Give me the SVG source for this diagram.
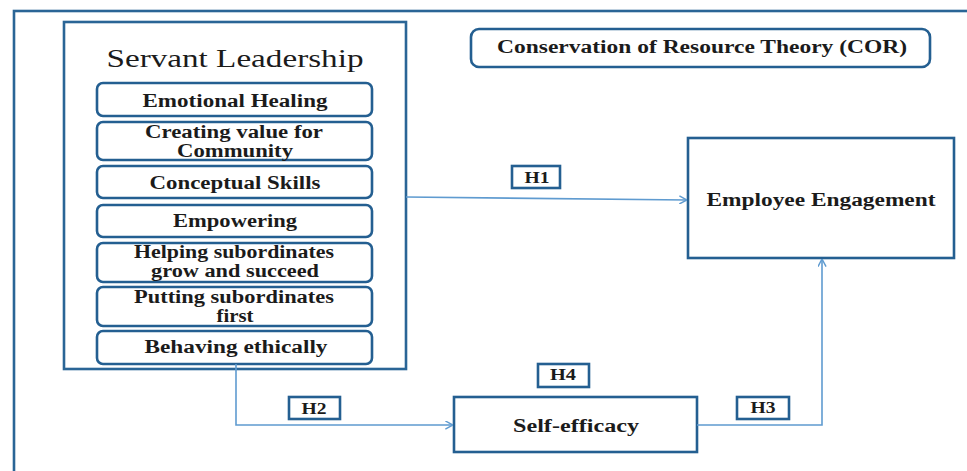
<svg xmlns="http://www.w3.org/2000/svg" width="967" height="471" viewBox="0 0 967 471">
<style>
.box{fill:#fff;stroke:#245f91;stroke-width:2.6}
.frame{fill:none;stroke:#2a6596;stroke-width:2.6}
.t{font-family:"Liberation Serif","Times New Roman",serif;font-weight:bold;font-size:18px;fill:#1b1b1b;text-anchor:middle}
.h{font-family:"Liberation Serif","Times New Roman",serif;font-weight:bold;font-size:17px;fill:#1b1b1b;text-anchor:middle}
.title{font-family:"Liberation Serif","Times New Roman",serif;font-size:26px;fill:#1b1b1b;text-anchor:middle}
.conn{fill:none;stroke:#5f9bd0;stroke-width:1.6}
</style>
<defs>
<marker id="arr" viewBox="0 0 10 10" refX="9.5" refY="5" markerWidth="9" markerHeight="9" markerUnits="userSpaceOnUse" orient="auto">
<path d="M1,0.5 L9.5,5 L1,9.5" fill="none" stroke="#5f9bd0" stroke-width="1.6"/>
</marker>
</defs>
<rect x="0" y="0" width="967" height="471" fill="#fff"/>
<rect class="frame" x="14" y="11" width="990" height="500"/>

<g id="servant-leadership">
<rect class="frame" x="64" y="22" width="342" height="347"/>
<text class="title" x="235" y="67" textLength="257" lengthAdjust="spacingAndGlyphs">Servant Leadership</text>
</g>
<g id="emotional-healing">
<rect class="box" x="97" y="83" width="275" height="33" rx="6"/>
<text class="t" x="235" y="107" textLength="185" lengthAdjust="spacingAndGlyphs">Emotional Healing</text>
</g>
<g id="creating-value">
<rect class="box" x="97" y="122" width="275" height="38" rx="6"/>
<text class="t" x="234" y="138" textLength="178" lengthAdjust="spacingAndGlyphs">Creating value for</text>
<text class="t" x="235" y="157" textLength="116" lengthAdjust="spacingAndGlyphs">Community</text>
</g>
<g id="conceptual-skills">
<rect class="box" x="97" y="166" width="275" height="32" rx="6"/>
<text class="t" x="235" y="189" textLength="171" lengthAdjust="spacingAndGlyphs">Conceptual Skills</text>
</g>
<g id="empowering">
<rect class="box" x="97" y="205" width="275" height="32" rx="6"/>
<text class="t" x="235" y="227" textLength="124" lengthAdjust="spacingAndGlyphs">Empowering</text>
</g>
<g id="helping">
<rect class="box" x="97" y="243" width="275" height="39" rx="6"/>
<text class="t" x="234" y="258" textLength="200" lengthAdjust="spacingAndGlyphs">Helping subordinates</text>
<text class="t" x="235" y="277" textLength="168" lengthAdjust="spacingAndGlyphs">grow and succeed</text>
</g>
<g id="putting">
<rect class="box" x="97" y="287" width="275" height="39" rx="6"/>
<text class="t" x="234" y="303" textLength="200" lengthAdjust="spacingAndGlyphs">Putting subordinates</text>
<text class="t" x="235" y="322" textLength="37" lengthAdjust="spacingAndGlyphs">first</text>
</g>
<g id="behaving">
<rect class="box" x="97" y="331" width="275" height="33" rx="6"/>
<text class="t" x="236" y="353" textLength="183" lengthAdjust="spacingAndGlyphs">Behaving ethically</text>
</g>

<g id="cor">
<rect class="box" x="471" y="29" width="459" height="38" rx="8"/>
<text class="t" x="702" y="53" textLength="410" lengthAdjust="spacingAndGlyphs">Conservation of Resource Theory (COR)</text>
</g>
<g id="employee-engagement">
<rect class="box" x="688" y="138" width="266" height="120"/>
<text class="t" x="821" y="206" textLength="229" lengthAdjust="spacingAndGlyphs">Employee Engagement</text>
</g>
<g id="self-efficacy">
<rect class="box" x="454" y="397" width="243" height="55"/>
<text class="t" x="576" y="432" textLength="126" lengthAdjust="spacingAndGlyphs">Self-efficacy</text>
</g>

<g id="connectors">
<path class="conn" d="M406,197 L687,200" marker-end="url(#arr)"/>
<path class="conn" d="M236,364 V425 H453" marker-end="url(#arr)"/>
<path class="conn" d="M697,425 H822 V259" marker-end="url(#arr)"/>
</g>

<g id="h1">
<rect class="box" x="512" y="166" width="48" height="22"/>
<text class="h" x="537" y="183" textLength="25" lengthAdjust="spacingAndGlyphs">H1</text>
</g>
<g id="h2">
<rect class="box" x="289" y="397" width="51" height="22"/>
<text class="h" x="314" y="414" textLength="25" lengthAdjust="spacingAndGlyphs">H2</text>
</g>
<g id="h3">
<rect class="box" x="737" y="397" width="52" height="22"/>
<text class="h" x="763" y="413" textLength="25" lengthAdjust="spacingAndGlyphs">H3</text>
</g>
<g id="h4">
<rect class="box" x="538" y="364" width="51" height="23"/>
<text class="h" x="563" y="380" textLength="26" lengthAdjust="spacingAndGlyphs">H4</text>
</g>
</svg>
